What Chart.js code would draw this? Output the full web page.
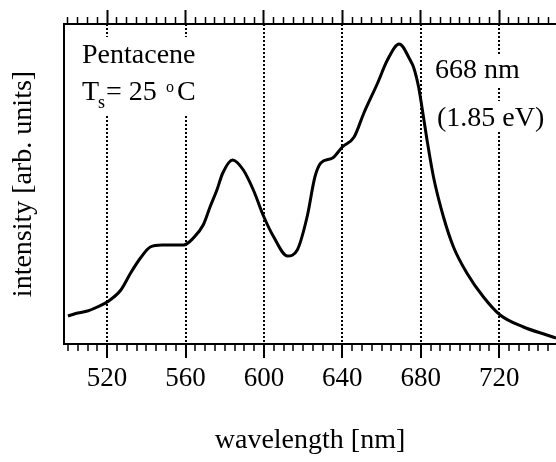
<!DOCTYPE html>
<html>
<head>
<meta charset="utf-8">
<script src="https://cdn.jsdelivr.net/npm/chart.js@4.4.1/dist/chart.umd.min.js"></script>
<style>
  html, body { margin: 0; padding: 0; background: #fff; }
  canvas { display: block; }
</style>
</head>
<body>
<canvas id="plChart" width="556" height="462"></canvas>
<script>
const wavelength = [500, 505, 510, 515, 520, 527, 532, 537, 542, 548, 553, 559, 564, 569, 572.5, 576, 579, 584, 589.5, 594.6,
    600, 605, 612, 617, 622, 626, 629, 635, 640, 646, 651, 658, 663, 669, 674.6, 676.3, 678.9, 680.6, 683.2, 686.5,
    691.6, 696.7, 703.5, 712, 720.5, 732.4, 744.3, 749];
const intensity = [28, 31, 33, 37, 42, 54, 71, 86, 97, 99, 99, 99, 106, 119, 137, 154, 171, 184, 174, 154,
    127, 107, 88, 94, 127, 167, 181, 186, 197, 207, 231, 261, 284, 300, 284, 277, 257, 237, 204, 167,
    127, 97, 71, 47, 29, 17, 9, 6];
const majorTicks = [520, 560, 600, 640, 680, 720];
const xMin = 498;
const xMax = 749;
const yMax = 320;

const minorTicks = [];
for (let v = 500; v <= 745; v += 5) minorTicks.push(v);

const serif = '"Liberation Serif", "Times New Roman", serif';
const isMajor = (c) => !!c.tick && majorTicks.includes(c.tick.value);
const setTicks = (scale) => { scale.ticks = minorTicks.map((value) => ({ value })); };

// labels in the plot, with white boxes that cut the dotted lines
const annotate = {
    id: 'annotate',
    beforeDatasetsDraw(chart) {
        const ctx = chart.ctx;
        ctx.save();
        ctx.fillStyle = '#fff';
        ctx.fillRect(80, 37, 118, 77);
        ctx.fillRect(433, 55, 88, 31);
        ctx.fillRect(435, 101, 110, 30);

        ctx.fillStyle = '#000';
        ctx.textBaseline = 'alphabetic';
        ctx.font = '28px ' + serif;
        ctx.fillText('Pentacene', 82, 63);
        ctx.fillText('T', 82, 100);
        ctx.fillText('= 25', 106, 100);
        ctx.fillText('C', 177, 100);
        ctx.fillText('668 nm', 435, 78);
        ctx.fillText('(1.85 eV)', 437, 126);
        ctx.font = '18px ' + serif;
        ctx.fillText('s', 98, 108);
        ctx.font = '16px ' + serif;
        ctx.fillText('o', 166, 92);
        ctx.restore();
    },
};

new Chart(document.getElementById('plChart'), {
    type: 'line',
    data: {
        datasets: [{
            data: wavelength.map((w, i) => ({ x: w, y: intensity[i] })),
            borderColor: '#000',
            borderWidth: 3,
            pointRadius: 0,
            fill: false,
            cubicInterpolationMode: 'monotone',
        }],
    },
    options: {
        responsive: false,
        animation: false,
        devicePixelRatio: 1,
        layout: { padding: 0 },
        plugins: { legend: { display: false }, tooltip: { enabled: false } },
        scales: {
            x: {
                type: 'linear',
                position: 'bottom',
                min: xMin,
                max: xMax,
                afterBuildTicks: setTicks,
                afterFit: (scale) => { scale.height = 118; },
                ticks: {
                    autoSkip: false,
                    maxRotation: 0,
                    padding: 5,
                    color: '#000',
                    font: { family: serif, size: 27 },
                    callback: (value) => (majorTicks.includes(value) ? String(value) : ''),
                },
                grid: {
                    color: (c) => (isMajor(c) ? '#000' : 'rgba(0,0,0,0)'),
                    lineWidth: (c) => (isMajor(c) ? 2 : 0),
                    tickLength: 14,
                    tickColor: '#000',
                    tickWidth: (c) => (isMajor(c) ? 2 : 1.5),
                    tickBorderDash: (c) => (isMajor(c) ? [] : [6, 30]),
                },
                border: { color: '#000', width: 2, dash: [2, 2] },
                title: {
                    display: true,
                    text: 'wavelength [nm]',
                    color: '#000',
                    font: { family: serif, size: 28 },
                    padding: { top: 0, bottom: 5 },
                },
            },
            xTop: {
                type: 'linear',
                axis: 'x',
                position: 'top',
                min: xMin,
                max: xMax,
                afterBuildTicks: setTicks,
                afterFit: (scale) => { scale.height = 24; },
                ticks: { display: false },
                grid: {
                    drawOnChartArea: false,
                    tickLength: 14,
                    tickColor: '#000',
                    tickWidth: (c) => (isMajor(c) ? 2 : 1.5),
                    tickBorderDash: (c) => (isMajor(c) ? [] : [0, 7, 6, 30]),
                },
                border: { color: '#000', width: 2 },
            },
            y: {
                position: 'left',
                min: 0,
                max: yMax,
                afterFit: (scale) => { scale.width = 64; },
                ticks: { display: false },
                grid: { drawOnChartArea: false, drawTicks: false },
                border: { color: '#000', width: 2 },
                title: {
                    display: true,
                    text: 'intensity [arb. units]',
                    color: '#000',
                    font: { family: serif, size: 28 },
                    padding: { top: 7, bottom: 0 },
                },
            },
        },
    },
    plugins: [annotate],
});
</script>
</body>
</html>
